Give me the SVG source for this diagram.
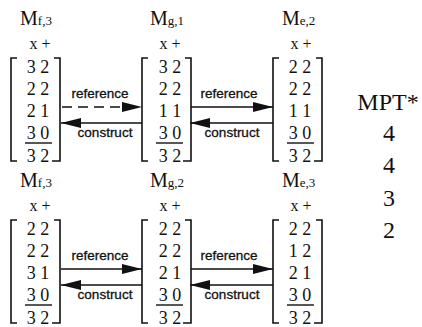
<svg xmlns="http://www.w3.org/2000/svg" width="422" height="327" viewBox="0 0 422 327">
  <style>
    .lab { font-family: "Liberation Serif", "Times New Roman", serif; font-size: 20px; fill: #111; }
    .sub { font-size: 13px; }
    .xp { font-family: "Liberation Serif", "Times New Roman", serif; font-size: 16px; fill: #111; text-anchor: middle; }
    .row { font-family: "Liberation Serif", "Times New Roman", serif; font-size: 18px; fill: #111; text-anchor: middle; }
    .brk { fill: none; stroke: #111; stroke-width: 1.6; }
    .bar { stroke: #111; stroke-width: 1.4; }
    .edge { fill: none; stroke: #111; stroke-width: 1.7; }
    .dash { stroke-dasharray: 10 6; }
    .elab { font-family: "Liberation Sans", Arial, sans-serif; font-size: 13.5px; fill: #111; stroke: #111; stroke-width: 0.3; text-anchor: middle; }
    .mpt { font-family: "Liberation Serif", "Times New Roman", serif; font-size: 24px; fill: #111; text-anchor: middle; }
  </style>
  <defs>
    <marker id="head" markerUnits="userSpaceOnUse" markerWidth="21" markerHeight="10" refX="20" refY="5" orient="auto">
      <path d="M0,0 L20,5 L0,10 Z" fill="#111"/>
    </marker>
    <!-- one matrix: brackets and the bar above the last row -->
    <g id="brackets">
      <path class="brk" d="M17,58 H11 V161 H17"/>
      <path class="brk" d="M54,58 H60 V161 H52"/>
      <line class="bar" x1="25" y1="143" x2="52" y2="143"/>
    </g>
  </defs>

  <!-- top row -->
  <g id="mf3-top">
    <text class="lab" x="20" y="25">M<tspan class="sub">f,3</tspan></text>
    <text class="xp" x="40" y="49">x +</text>
    <use href="#brackets"/>
    <text class="row" x="38" y="73">3 2</text>
    <text class="row" x="38" y="95">2 2</text>
    <text class="row" x="38" y="117">2 1</text>
    <text class="row" x="38" y="139">3 0</text>
    <text class="row" x="38" y="162">3 2</text>
  </g>
  <g id="mg1-top">
    <text class="lab" x="150" y="25">M<tspan class="sub">g,1</tspan></text>
    <text class="xp" x="170" y="49">x +</text>
    <use href="#brackets" x="131"/>
    <text class="row" x="170" y="73">3 2</text>
    <text class="row" x="170" y="95">2 2</text>
    <text class="row" x="170" y="117">1 1</text>
    <text class="row" x="170" y="139">3 0</text>
    <text class="row" x="170" y="162">3 2</text>
  </g>
  <g id="me2-top">
    <text class="lab" x="282" y="25">M<tspan class="sub">e,2</tspan></text>
    <text class="xp" x="301" y="49">x +</text>
    <use href="#brackets" x="262"/>
    <text class="row" x="300" y="73">2 2</text>
    <text class="row" x="300" y="95">2 2</text>
    <text class="row" x="300" y="117">1 1</text>
    <text class="row" x="300" y="139">3 0</text>
    <text class="row" x="300" y="162">3 2</text>
  </g>

  <!-- bottom row -->
  <g id="mf3-bottom">
    <text class="lab" x="20" y="187">M<tspan class="sub">f,3</tspan></text>
    <text class="xp" x="40" y="211">x +</text>
    <use href="#brackets" y="162"/>
    <text class="row" x="38" y="235">2 2</text>
    <text class="row" x="38" y="257">2 2</text>
    <text class="row" x="38" y="279">3 1</text>
    <text class="row" x="38" y="301">3 0</text>
    <text class="row" x="38" y="324">3 2</text>
  </g>
  <g id="mg2-bottom">
    <text class="lab" x="150" y="187">M<tspan class="sub">g,2</tspan></text>
    <text class="xp" x="170" y="211">x +</text>
    <use href="#brackets" x="131" y="162"/>
    <text class="row" x="170" y="235">2 2</text>
    <text class="row" x="170" y="257">2 2</text>
    <text class="row" x="170" y="279">2 1</text>
    <text class="row" x="170" y="301">3 0</text>
    <text class="row" x="170" y="324">3 2</text>
  </g>
  <g id="me3-bottom">
    <text class="lab" x="282" y="187">M<tspan class="sub">e,3</tspan></text>
    <text class="xp" x="301" y="211">x +</text>
    <use href="#brackets" x="262" y="162"/>
    <text class="row" x="300" y="235">2 2</text>
    <text class="row" x="300" y="257">1 2</text>
    <text class="row" x="300" y="279">2 1</text>
    <text class="row" x="300" y="301">3 0</text>
    <text class="row" x="300" y="324">3 2</text>
  </g>

  <!-- MPT* column -->
  <g id="mpt">
    <text class="mpt" x="388" y="110">MPT*</text>
    <text class="mpt" x="389" y="141">4</text>
    <text class="mpt" x="389" y="173">4</text>
    <text class="mpt" x="389" y="206">3</text>
    <text class="mpt" x="389" y="238">2</text>
  </g>

  <!-- connectors -->
  <g id="connectors">
    <line class="edge dash" x1="62" y1="107" x2="142" y2="107" marker-end="url(#head)"/>
    <line class="edge" x1="142" y1="123" x2="61" y2="123" marker-end="url(#head)"/>
    <line class="edge" x1="191" y1="107" x2="273" y2="107" marker-end="url(#head)"/>
    <line class="edge" x1="273" y1="123" x2="190" y2="123" marker-end="url(#head)"/>
    <line class="edge" x1="61" y1="269" x2="142" y2="269" marker-end="url(#head)"/>
    <line class="edge" x1="142" y1="285" x2="61" y2="285" marker-end="url(#head)"/>
    <line class="edge" x1="191" y1="269" x2="273" y2="269" marker-end="url(#head)"/>
    <line class="edge" x1="273" y1="285" x2="190" y2="285" marker-end="url(#head)"/>

    <text class="elab" x="100" y="98">reference</text>
    <text class="elab" x="105" y="137">construct</text>
    <text class="elab" x="229" y="98">reference</text>
    <text class="elab" x="232" y="137">construct</text>
    <text class="elab" x="100" y="260">reference</text>
    <text class="elab" x="105" y="299">construct</text>
    <text class="elab" x="229" y="260">reference</text>
    <text class="elab" x="232" y="299">construct</text>
  </g>
</svg>
